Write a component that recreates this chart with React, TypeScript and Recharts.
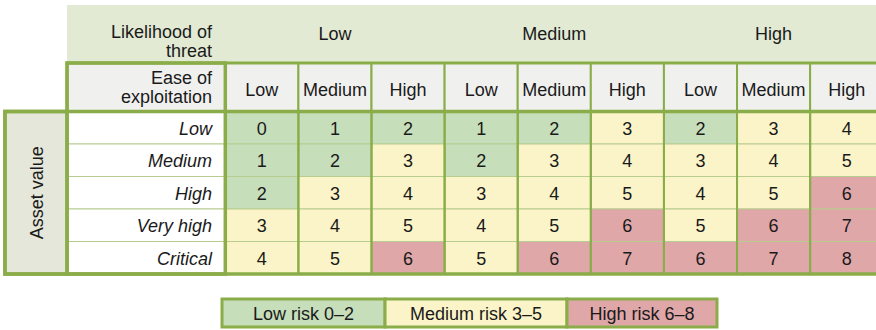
import { ScatterChart, Scatter, XAxis, YAxis, ReferenceArea } from 'recharts'

// likelihood of threat groups, ease of exploitation inside each group
const threatLevels = ['Low', 'Medium', 'High']
const easeLevels = ['Low', 'Medium', 'High']
const assetValues = ['Low', 'Medium', 'High', 'Very high', 'Critical']

// risk score per asset value (rows) and threat/ease column (9 columns)
const riskMatrix = [
  [0, 1, 2, 1, 2, 3, 2, 3, 4],
  [1, 2, 3, 2, 3, 4, 3, 4, 5],
  [2, 3, 4, 3, 4, 5, 4, 5, 6],
  [3, 4, 5, 4, 5, 6, 5, 6, 7],
  [4, 5, 6, 5, 6, 7, 6, 7, 8],
]

const riskBands = [
  { label: 'Low risk 0–2', min: 0, max: 2 },
  { label: 'Medium risk 3–5', min: 3, max: 5 },
  { label: 'High risk 6–8', min: 6, max: 8 },
]

// ---- layout (data units: one data column wide, one body row tall) ----
const X_MIN = -3.082
const X_MAX = 8.901
const Y_MIN = -3.431
const Y_MAX = 6.723
const ASSET_L = -3.014
const LABEL_L = -2.165
const X_END = 9.3
const BAND_TOP = -3.277
const EASE_TOP = -1.492
const BODY_BOTTOM = 5
const LEGEND_TOP = 5.769
const LEGEND_BOTTOM = 6.631
const LEGEND_EDGES = [-0.045, 2.185, 4.674, 6.726]
const LABEL_RIGHT = -0.182

const BAND_COLORS = ['#c6deba', '#faf4c8', '#e0a7a9']
const BORDER = '#8aad4a'
const THIN = '#b7cc8f'
const FONT = 18
const LINE_H = 19

const bandOf = (v: number) => riskBands.findIndex((b) => v >= b.min && v <= b.max)

type TextPoint = {
  x: number
  y: number
  lines: string[]
  anchor?: 'start' | 'middle' | 'end'
  italic?: boolean
  rotate?: boolean
}

const numberPoints: TextPoint[] = riskMatrix.flatMap((row, r) =>
  row.map((v, c) => ({ x: c + 0.5, y: r + 0.5, lines: [String(v)] })),
)

const labelPoints: TextPoint[] = [
  ...threatLevels.map((t, g) => ({ x: g * 3 + 1.5, y: -2.415, lines: [t] })),
  { x: LABEL_RIGHT, y: -2.175, lines: ['Likelihood of', 'threat'], anchor: 'end' as const },
  { x: LABEL_RIGHT, y: -0.763, lines: ['Ease of', 'exploitation'], anchor: 'end' as const },
  ...threatLevels.flatMap((_, g) => easeLevels.map((e, i) => ({ x: g * 3 + i + 0.5, y: -0.7, lines: [e] }))),
  ...assetValues.map((a, r) => ({ x: LABEL_RIGHT, y: r + 0.5, lines: [a], anchor: 'end' as const, italic: true })),
  { x: -2.576, y: 2.5, lines: ['Asset value'], rotate: true },
  ...riskBands.map((b, i) => ({
    x: (LEGEND_EDGES[i] + LEGEND_EDGES[i + 1]) / 2,
    y: (LEGEND_TOP + LEGEND_BOTTOM) / 2,
    lines: [b.label],
  })),
]

function renderText(props: any) {
  const { cx, cy, payload } = props
  const p = payload as TextPoint
  const n = p.lines.length
  const first = -((n - 1) * LINE_H) / 2 + 6.8
  if (p.rotate) {
    return (
      <text
        x={cx}
        y={cy}
        textAnchor="middle"
        fontSize={FONT}
        fill="#1a1a1a"
        transform={`rotate(-90 ${cx} ${cy})`}
        dy={6.3}
      >
        {p.lines[0]}
      </text>
    )
  }
  return (
    <text
      x={cx}
      y={cy}
      textAnchor={p.anchor ?? 'middle'}
      fontSize={FONT}
      fontStyle={p.italic ? 'italic' : 'normal'}
      fill="#1a1a1a"
    >
      {p.lines.map((l, i) => (
        <tspan key={i} x={cx} y={cy + first + i * LINE_H}>
          {l}
        </tspan>
      ))}
    </text>
  )
}

export default function App() {
  const cols = riskMatrix[0].map((_, c) => c)
  return (
    <div style={{ width: 876, height: 330, fontFamily: "'Liberation Sans', Arial, sans-serif" }}>
      <style>{'body{margin:0}'}</style>
      <ScatterChart width={876} height={330} margin={{ top: 0, right: 0, bottom: 0, left: 0 }}>
        <XAxis type="number" dataKey="x" domain={[X_MIN, X_MAX]} allowDataOverflow hide />
        <YAxis type="number" dataKey="y" domain={[Y_MIN, Y_MAX]} allowDataOverflow reversed hide />

        {/* header band */}
        <ReferenceArea x1={LABEL_L} x2={X_END} y1={BAND_TOP} y2={EASE_TOP} fill="#e2ead4" fillOpacity={1} ifOverflow="visible" />
        <ReferenceArea x1={LABEL_L} x2={0} y1={EASE_TOP} y2={0} fill="#f0f0ef" fillOpacity={1} ifOverflow="visible" />
        {cols.map((c) => (
          <ReferenceArea key={`e${c}`} x1={c} x2={c + 1} y1={EASE_TOP} y2={0} fill="#f0f0ef" fillOpacity={1}
            stroke={BORDER} strokeWidth={2} ifOverflow="visible" />
        ))}

        {/* asset value column and row labels */}
        <ReferenceArea x1={ASSET_L} x2={LABEL_L} y1={0} y2={BODY_BOTTOM} fill="#e4e7d9" fillOpacity={1} ifOverflow="visible" />
        {assetValues.map((_, r) => (
          <ReferenceArea key={`l${r}`} x1={LABEL_L} x2={0} y1={r} y2={r + 1} fill="#ffffff" fillOpacity={1}
            stroke={THIN} strokeWidth={1} ifOverflow="visible" />
        ))}

        {/* risk cells */}
        {riskMatrix.flatMap((row, r) =>
          row.map((v, c) => (
            <ReferenceArea key={`c${r}-${c}`} x1={c} x2={c + 1} y1={r} y2={r + 1} fill={BAND_COLORS[bandOf(v)]}
              fillOpacity={1} stroke={THIN} strokeWidth={1} ifOverflow="visible" />
          )),
        )}
        {cols.map((c) => (
          <ReferenceArea key={`v${c}`} x1={c} x2={c + 1} y1={0} y2={BODY_BOTTOM} fill="none" stroke={BORDER}
            strokeWidth={2} ifOverflow="visible" />
        ))}

        {/* thick outlines */}
        <ReferenceArea x1={LABEL_L} x2={X_END} y1={EASE_TOP} y2={0} fill="none" stroke={BORDER} strokeWidth={3} ifOverflow="visible" />
        <ReferenceArea x1={ASSET_L} x2={X_END} y1={0} y2={BODY_BOTTOM} fill="none" stroke={BORDER} strokeWidth={3.5} ifOverflow="visible" />
        <ReferenceArea x1={ASSET_L} x2={LABEL_L} y1={0} y2={BODY_BOTTOM} fill="none" stroke={BORDER} strokeWidth={3.5} ifOverflow="visible" />
        <ReferenceArea x1={LABEL_L} x2={0} y1={EASE_TOP} y2={BODY_BOTTOM} fill="none" stroke={BORDER} strokeWidth={3.5} ifOverflow="visible" />

        {/* legend */}
        {riskBands.map((b, i) => (
          <ReferenceArea key={b.label} x1={LEGEND_EDGES[i]} x2={LEGEND_EDGES[i + 1]} y1={LEGEND_TOP} y2={LEGEND_BOTTOM}
            fill={BAND_COLORS[i]} fillOpacity={1} stroke={BORDER} strokeWidth={3} ifOverflow="visible" />
        ))}

        <Scatter data={numberPoints} shape={renderText} isAnimationActive={false} />
        <Scatter data={labelPoints} shape={renderText} isAnimationActive={false} />
      </ScatterChart>
    </div>
  )
}
